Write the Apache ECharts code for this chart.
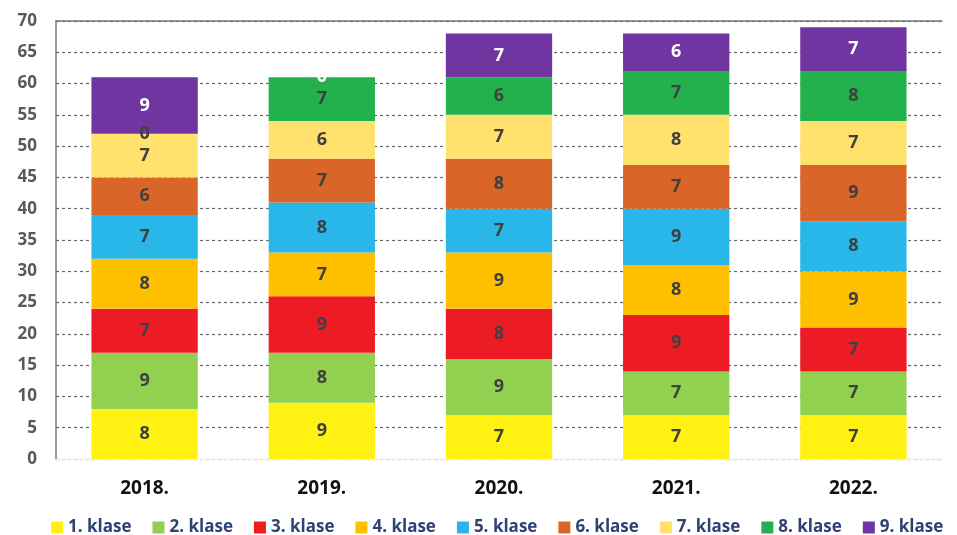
<!DOCTYPE html>
<html>
<head>
<meta charset="utf-8">
<script src="https://cdn.jsdelivr.net/npm/echarts@6/dist/echarts.min.js"></script>
<style>
  html, body { margin: 0; padding: 0; background: #fff; }
  #chart-container { width: 957px; height: 535px; }
</style>
</head>
<body>
<div id="chart-container"></div>
<script>
var years = ['2018.', '2019.', '2020.', '2021.', '2022.'];
var klase1 = [8, 9, 7, 7, 7];
var klase2 = [9, 8, 9, 7, 7];
var klase3 = [7, 9, 8, 9, 7];
var klase4 = [8, 7, 9, 8, 9];
var klase5 = [7, 8, 7, 9, 8];
var klase6 = [6, 7, 8, 7, 9];
var klase7 = [7, 6, 7, 8, 7];
var klase8 = [0, 7, 6, 7, 8];
var klase9 = [9, 0, 7, 6, 7];
var seriesNames = ['1. klase', '2. klase', '3. klase', '4. klase', '5. klase', '6. klase', '7. klase', '8. klase', '9. klase'];
var seriesData = [klase1, klase2, klase3, klase4, klase5, klase6, klase7, klase8, klase9];
var colors = ['#FFF212', '#92D050', '#ED1C24', '#FFC000', '#29B6E9', '#DA6529', '#FFE26E', '#22B14C', '#7035A0'];
var labelColors = ['#404040', '#404040', '#404040', '#404040', '#404040', '#404040', '#404040', '#404040', '#ffffff'];

var dom = document.getElementById('chart-container');
var myChart = echarts.init(dom, null, { renderer: 'canvas' });

var series = seriesNames.map(function (name, i) {
  return {
    name: name,
    type: 'bar',
    stack: 'total',
    barWidth: '60%',
    itemStyle: { color: colors[i] },
    label: {
      show: true,
      position: 'inside',
      color: labelColors[i],
      fontFamily: 'Open Sans',
      fontWeight: 'bold',
      fontSize: 18
    },
    data: seriesData[i]
  };
});

var option = {
  animation: false,
  grid: { left: 56, right: 15, top: 21, bottom: 76 },
  legend: {
    top: 514,
    left: 46,
    itemWidth: 12,
    itemHeight: 12,
    itemGap: 21,
    icon: 'rect',
    textStyle: {
      color: '#2F4274',
      fontFamily: 'Open Sans',
      fontWeight: 'bold',
      fontSize: 17
    },
    data: seriesNames
  },
  xAxis: [
    {
      type: 'category',
      data: years,
      axisLine: { show: true, lineStyle: { color: '#e6edf2' } },
      axisTick: { show: false },
      axisLabel: {
        color: '#111',
        fontFamily: 'Open Sans',
        fontWeight: 'bold',
        fontSize: 19,
        margin: 20
      }
    },
    {
      type: 'category',
      position: 'top',
      data: years,
      axisLine: { show: true, lineStyle: { color: '#777', width: 1.5 } },
      axisTick: { show: false },
      axisLabel: { show: false }
    }
  ],
  yAxis: {
    type: 'value',
    min: 0,
    max: 70,
    interval: 5,
    axisLine: { show: true, lineStyle: { color: '#777', width: 1.5 } },
    axisTick: { show: false },
    splitLine: { lineStyle: { type: [3, 3], color: '#666', width: 1.2 } },
    axisLabel: {
      color: '#595959',
      fontFamily: 'Open Sans',
      fontWeight: 'bold',
      fontSize: 17,
      margin: 19
    }
  },
  series: series
};

myChart.setOption(option);
window.addEventListener('resize', myChart.resize);
</script>
</body>
</html>
